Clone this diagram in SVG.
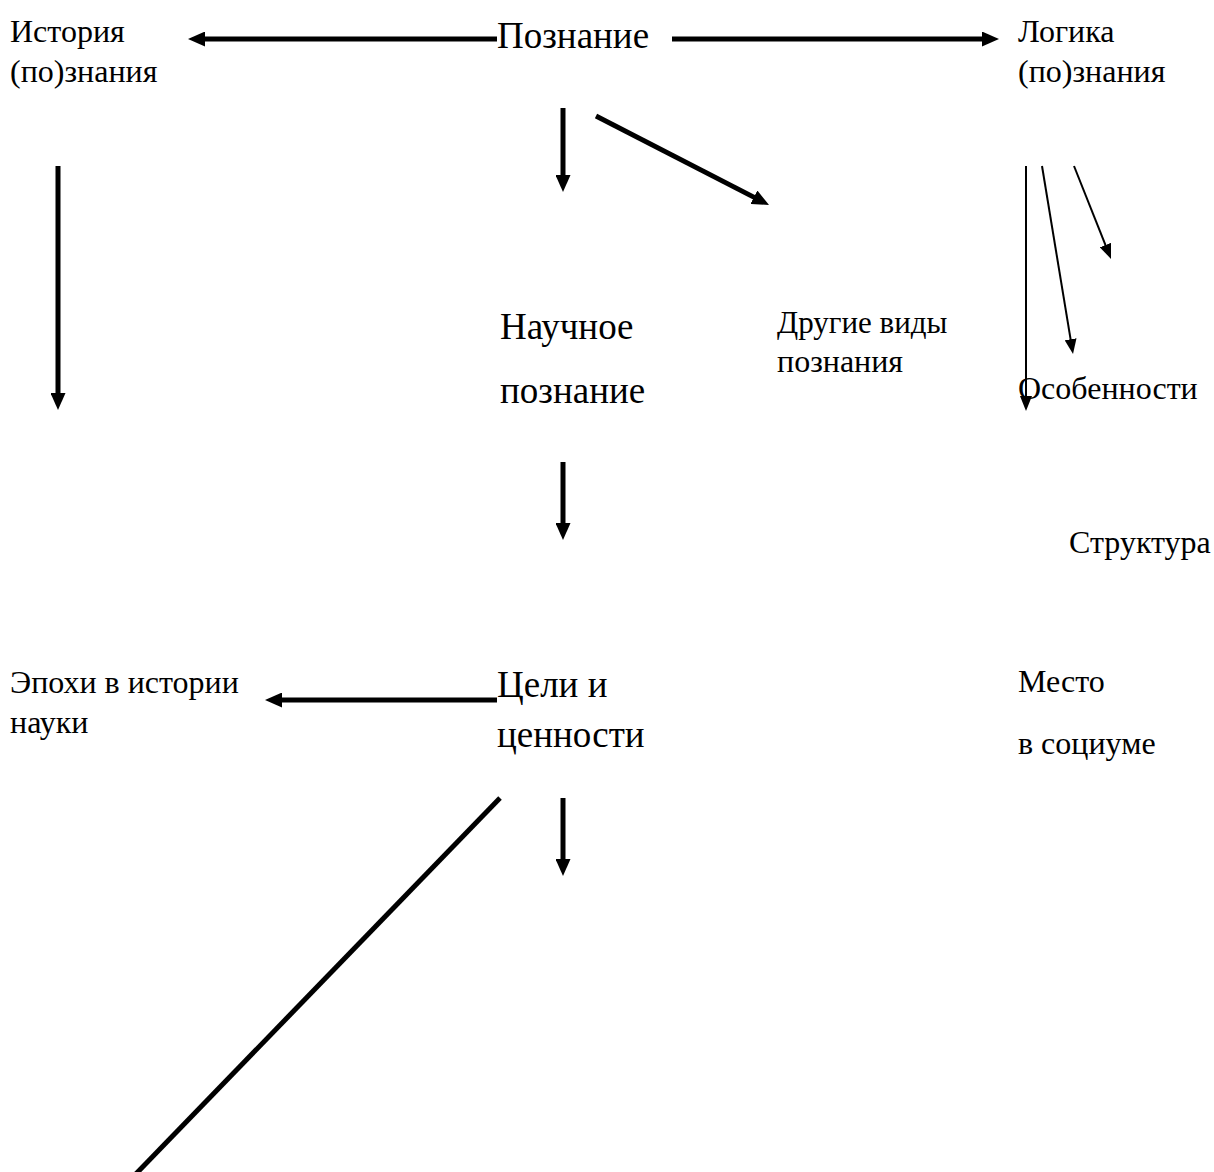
<svg xmlns="http://www.w3.org/2000/svg" width="1214" height="1172" viewBox="0 0 1214 1172">
<style>
text{font-family:"Liberation Serif","Times New Roman",serif;fill:#000}
.t{font-size:32px}
.s{font-size:31px}
.b{font-size:37px}
.thick{stroke:#000;stroke-width:5;fill:none}
.thin{stroke:#000;stroke-width:2;fill:none}
</style>
<defs>
<marker id="ah" markerUnits="userSpaceOnUse" markerWidth="17" markerHeight="15" viewBox="0 0 17 15" refX="2" refY="7.5" orient="auto"><path d="M0,0 L17,7.5 L0,15 z" fill="#000"/></marker>
<marker id="ahs" markerUnits="userSpaceOnUse" markerWidth="15" markerHeight="12" viewBox="0 0 15 12" refX="2" refY="6" orient="auto"><path d="M0,0 L15,6 L0,12 z" fill="#000"/></marker>
</defs>
<rect width="1214" height="1172" fill="#fff"/>
<g id="connectors">
<line class="thick" x1="497" y1="39" x2="203" y2="39" marker-end="url(#ah)"/>
<line class="thick" x1="672" y1="39" x2="984" y2="39" marker-end="url(#ah)"/>
<line class="thick" x1="563" y1="108" x2="563" y2="177" marker-end="url(#ah)"/>
<line class="thick" x1="596" y1="116" x2="755.7" y2="198.1" marker-end="url(#ah)"/>
<line class="thick" x1="58" y1="166" x2="58" y2="395" marker-end="url(#ah)"/>
<line class="thin" x1="1026" y1="166" x2="1026" y2="398" marker-end="url(#ahs)"/>
<line class="thin" x1="1042" y1="166" x2="1070.9" y2="341.2" marker-end="url(#ahs)"/>
<line class="thin" x1="1074" y1="166" x2="1106.2" y2="246.9" marker-end="url(#ahs)"/>
<line class="thick" x1="563" y1="462" x2="563" y2="525" marker-end="url(#ah)"/>
<line class="thick" x1="497" y1="700" x2="280" y2="700" marker-end="url(#ah)"/>
<line class="thick" x1="563" y1="798" x2="563" y2="861" marker-end="url(#ah)"/>
<line class="thick" x1="500" y1="798" x2="130" y2="1180"/>
</g>
<g id="n-istoriya"><text class="t" x="10" y="42">История</text><text class="t" x="10" y="82">(по)знания</text></g>
<g id="n-poznanie"><text class="b" x="497" y="48">Познание</text></g>
<g id="n-logika"><text class="t" x="1018" y="42">Логика</text><text class="t" x="1018" y="82">(по)знания</text></g>
<g id="n-nauchnoe"><text class="b" x="500" y="339">Научное</text><text class="b" x="500" y="403">познание</text></g>
<g id="n-drugie"><text class="s" x="777" y="333">Другие виды</text><text class="t" x="777" y="372">познания</text></g>
<g id="n-osobennosti"><text class="t" x="1018" y="399">Особенности</text></g>
<g id="n-struktura"><text class="t" x="1069" y="553">Структура</text></g>
<g id="n-mesto"><text class="t" x="1018" y="692">Место</text><text class="t" x="1018" y="754">в социуме</text></g>
<g id="n-epohi"><text class="t" x="10" y="693">Эпохи в истории</text><text class="t" x="10" y="733">науки</text></g>
<g id="n-celi"><text class="b" x="497" y="697">Цели и</text><text class="b" x="497" y="747">ценности</text></g>
</svg>
